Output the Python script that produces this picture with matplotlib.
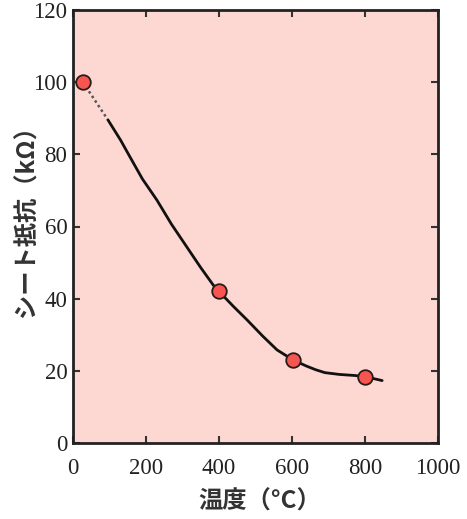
import matplotlib
matplotlib.use("Agg")
import matplotlib.pyplot as plt

# Data
temp_pts = [27, 400, 603, 800]
res_pts = [100, 42.1, 23.0, 18.3]

dot_x = [27, 96]
dot_y = [100, 89.5]

curve_x = [96, 130, 156, 190, 230, 270, 312, 350, 384, 400, 440, 477, 520, 559, 603, 640, 665, 690, 730, 773, 800, 847]
curve_y = [89.5, 84.0, 79.3, 73.2, 67.3, 60.6, 54.3, 48.6, 43.8, 42.0, 37.8, 34.1, 29.6, 25.8, 23.0, 21.3, 20.3, 19.5, 19.0, 18.7, 18.4, 17.3]

xticks = [0, 200, 400, 600, 800, 1000]
yticks = [0, 20, 40, 60, 80, 100, 120]

xlabel = "温度（°C）"
ylabel = "シート抵抗（kΩ）"

fig = plt.figure(figsize=(4.67, 5.19), dpi=100)
ax = fig.add_axes([73/467, 1-443/519, (438-73)/467, (443-10)/519])
ax.set_facecolor("#FDD8D2")

ax.plot(dot_x, dot_y, color="#555555", lw=1.8, ls=(0, (1, 1.2)), zorder=2)
ax.plot(curve_x, curve_y, color="#111111", lw=2.0, zorder=2,
        solid_capstyle="round", solid_joinstyle="round")
ax.scatter(temp_pts, res_pts, s=110, color="#F65650", edgecolor="#2a1a1a", linewidths=1.3, zorder=3)

ax.set_xlim(0, 1000)
ax.set_ylim(0, 120)
ax.set_xticks(xticks)
ax.set_yticks(yticks)
ax.tick_params(direction="in", length=5, width=1.5, top=True, right=True, colors="#333333")
ax.tick_params(axis="x", pad=11)
ax.tick_params(axis="y", pad=4)
for lab in ax.get_xticklabels() + ax.get_yticklabels():
    lab.set_fontfamily("Liberation Serif")
    lab.set_fontsize(16.5)
    lab.set_color("#222222")
for sp in ax.spines.values():
    sp.set_linewidth(2.0)
    sp.set_color("#222222")

ax.set_xlabel(xlabel, fontsize=17.5, fontweight="bold", color="#333333",
              family=["Noto Sans CJK JP", "DejaVu Sans"], va="center", ha="center")
ax.xaxis.set_label_coords(0.512, -0.136)
ax.set_ylabel(ylabel, fontsize=17.5, fontweight="bold", color="#333333",
              family=["Noto Sans CJK JP", "DejaVu Sans"], va="center", ha="center")
ax.yaxis.set_label_coords(-0.128, 0.527)

fig.savefig("out.png", dpi=100)
